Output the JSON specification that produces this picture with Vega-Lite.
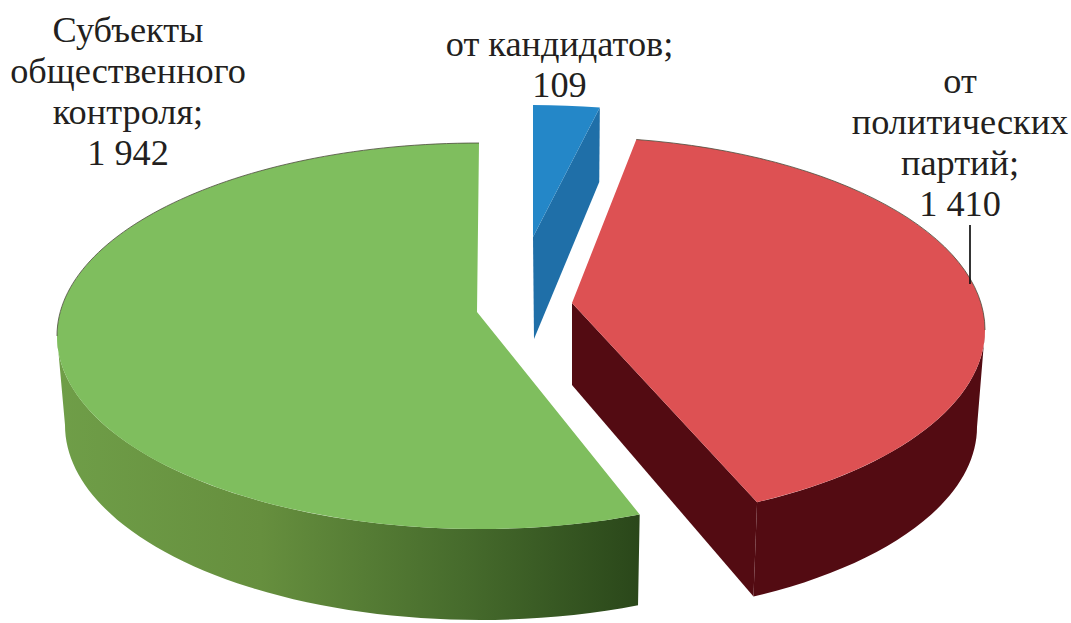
{"$schema":"https://vega.github.io/schema/vega-lite/v6.json","width":1071,"height":623,"padding":0,"autosize":{"type":"none"},"background":"white","config":{"view":{"stroke":null}},
"params":[{"name":"geom","value":{
"green":{"ax":-58.5,"ay":0.5,"cx":-56.5,"cy":24.5,"rx":422,"ry":193,"bx":-55.5,"by":113.5,"brx":415,"bry":195,"abx":0,"aby":0,"rot":0,"warp":0.55,"e0":270,"e1":360,"lx":-407.5,"ly":-269.5},
"red":{"ax":36.5,"ay":-8.5,"cx":34.5,"cy":18.5,"rx":415,"ry":193,"bx":34.5,"by":115.5,"brx":407,"bry":190,"abx":36.5,"aby":73.5,"rot":-3.09,"warp":2.46,"e0":0,"e1":90,"lx":424.5,"ly":-218.5},
"blue":{"ax":-2.5,"ay":-74.5,"cx":-2.5,"cy":-74.5,"rx":340,"ry":132,"bx":-2.5,"by":-0.1,"brx":337,"bry":132,"abx":-1.5,"aby":27.5,"rot":0,"warp":0,"e0":0,"e1":360,"lx":24,"ly":-255.5}
}}],
"data":{"values":[
{"slice":"green","name":"Субъекты\nобщественного\nконтроля","value":1942},
{"slice":"blue","name":"от кандидатов","value":109},
{"slice":"red","name":"от\nполитических\nпартий","value":1410}
]},
"transform":[
{"stack":"value","groupby":[],"sort":[{"field":"value","order":"ascending"}],"as":["v0","v1"]},
{"joinaggregate":[{"op":"sum","field":"value","as":"total"}]},
{"calculate":"geom[datum.slice]","as":"g"},
{"calculate":"360*datum.v0/datum.total","as":"d0"},
{"calculate":"360*datum.v1/datum.total","as":"d1"},
{"calculate":"(datum.d0+datum.g.rot+datum.g.warp*sin(2*datum.d0*PI/180))*PI/180","as":"a0"},
{"calculate":"(datum.d1+datum.g.rot+datum.g.warp*sin(2*datum.d1*PI/180))*PI/180","as":"a1"},
{"calculate":"max(datum.a0,PI/2)","as":"wa"},
{"calculate":"min(datum.a1,3*PI/2)","as":"wb"},
{"calculate":"max(datum.a0,datum.g.e0*PI/180)","as":"ea"},
{"calculate":"min(datum.a1,datum.g.e1*PI/180)","as":"eb"},
{"calculate":"'M'+datum.g.ax+','+datum.g.ay+'L'+round(100*(datum.g.cx+datum.g.rx*sin(datum.a0)))/100+','+round(100*(datum.g.cy-datum.g.ry*cos(datum.a0)))/100+'A'+datum.g.rx+','+datum.g.ry+' 0 '+(datum.a1-datum.a0>PI?1:0)+' 1 '+round(100*(datum.g.cx+datum.g.rx*sin(datum.a1)))/100+','+round(100*(datum.g.cy-datum.g.ry*cos(datum.a1)))/100+'Z'","as":"topPath"},
{"calculate":"'M'+round(100*(datum.g.cx+datum.g.rx*sin(datum.wa)))/100+','+round(100*(datum.g.cy-datum.g.ry*cos(datum.wa)))/100+'A'+datum.g.rx+','+datum.g.ry+' 0 0 1 '+round(100*(datum.g.cx+datum.g.rx*sin(datum.wb)))/100+','+round(100*(datum.g.cy-datum.g.ry*cos(datum.wb)))/100+'L'+round(100*(datum.g.bx+datum.g.brx*sin(datum.wb)))/100+','+round(100*(datum.g.by-datum.g.bry*cos(datum.wb)))/100+'A'+datum.g.brx+','+datum.g.bry+' 0 0 0 '+round(100*(datum.g.bx+datum.g.brx*sin(datum.wa)))/100+','+round(100*(datum.g.by-datum.g.bry*cos(datum.wa)))/100+'Z'","as":"wallPath"},
{"calculate":"'M'+datum.g.ax+','+datum.g.ay+'L'+round(100*(datum.g.cx+datum.g.rx*sin(datum.a1)))/100+','+round(100*(datum.g.cy-datum.g.ry*cos(datum.a1)))/100+'L'+round(100*(datum.g.bx+datum.g.brx*sin(datum.a1)))/100+','+round(100*(datum.g.by-datum.g.bry*cos(datum.a1)))/100+'L'+datum.g.abx+','+datum.g.aby+'Z'","as":"cutPath"},
{"calculate":"'M'+round(100*(datum.g.cx+datum.g.rx*sin(datum.ea)))/100+','+round(100*(datum.g.cy-datum.g.ry*cos(datum.ea)))/100+'A'+datum.g.rx+','+datum.g.ry+' 0 0 1 '+round(100*(datum.g.cx+datum.g.rx*sin(datum.eb)))/100+','+round(100*(datum.g.cy-datum.g.ry*cos(datum.eb)))/100","as":"edgePath"},
{"calculate":"width/2+datum.g.lx","as":"tx"},
{"calculate":"height/2+datum.g.ly","as":"ty"},
{"calculate":"datum.name+';\\n'+replace(format(datum.value,','),',',' ')","as":"label"}
],
"layer":[
{"transform":[{"filter":"datum.slice==='green'"}],"mark":{"type":"point","filled":true,"size":4,"opacity":1,"x":{"expr":"width/2"},"y":{"expr":"height/2"},"color":{"gradient":"linear","x1":0,"x2":1,"y1":0,"y2":0,"stops":[{"offset":0,"color":"#6f9e48"},{"offset":0.35,"color":"#668f3e"},{"offset":0.7,"color":"#466b2c"},{"offset":1,"color":"#2a471a"}]}},"encoding":{"shape":{"field":"wallPath","type":"nominal","scale":null,"legend":null}}},
{"transform":[{"filter":"datum.slice==='green'"}],"mark":{"type":"point","filled":true,"size":4,"opacity":1,"x":{"expr":"width/2"},"y":{"expr":"height/2"},"fill":"#7fbe5e"},"encoding":{"shape":{"field":"topPath","type":"nominal","scale":null,"legend":null}}},
{"transform":[{"filter":"datum.slice==='red'"}],"mark":{"type":"point","filled":true,"size":4,"opacity":1,"x":{"expr":"width/2"},"y":{"expr":"height/2"},"fill":"#530b12"},"encoding":{"shape":{"field":"wallPath","type":"nominal","scale":null,"legend":null}}},
{"transform":[{"filter":"datum.slice==='red'"}],"mark":{"type":"point","filled":true,"size":4,"opacity":1,"x":{"expr":"width/2"},"y":{"expr":"height/2"},"fill":"#530b12"},"encoding":{"shape":{"field":"cutPath","type":"nominal","scale":null,"legend":null}}},
{"transform":[{"filter":"datum.slice==='red'"}],"mark":{"type":"point","filled":true,"size":4,"opacity":1,"x":{"expr":"width/2"},"y":{"expr":"height/2"},"fill":"#dd5153"},"encoding":{"shape":{"field":"topPath","type":"nominal","scale":null,"legend":null}}},
{"transform":[{"filter":"datum.slice==='blue'"}],"mark":{"type":"point","filled":true,"size":4,"opacity":1,"x":{"expr":"width/2"},"y":{"expr":"height/2"},"fill":"#1f6fa8"},"encoding":{"shape":{"field":"cutPath","type":"nominal","scale":null,"legend":null}}},
{"transform":[{"filter":"datum.slice==='blue'"}],"mark":{"type":"point","filled":true,"size":4,"opacity":1,"x":{"expr":"width/2"},"y":{"expr":"height/2"},"fill":"#2487c8"},"encoding":{"shape":{"field":"topPath","type":"nominal","scale":null,"legend":null}}},
{"transform":[{"filter":"datum.slice!=='blue'"}],"mark":{"type":"point","filled":false,"size":4,"opacity":1,"x":{"expr":"width/2"},"y":{"expr":"height/2"},"stroke":"#4a4a3a","strokeWidth":0.8,"fill":null},"encoding":{"shape":{"field":"edgePath","type":"nominal","scale":null,"legend":null}}},
{"transform":[{"filter":"datum.slice==='red'"},{"calculate":"datum.tx+10","as":"lx1"},{"calculate":"datum.ty+132","as":"ly1"},{"calculate":"datum.ty+191","as":"ly2"}],"mark":{"type":"rule","stroke":"#111111","strokeWidth":1.7},"encoding":{"x":{"field":"lx1","type":"quantitative","scale":null,"axis":null},"y":{"field":"ly1","type":"quantitative","scale":null,"axis":null},"y2":{"field":"ly2"}}},
{"mark":{"type":"text","font":"Liberation Serif","fontSize":36.3,"lineHeight":41,"lineBreak":"\n","align":"center","baseline":"alphabetic","fill":"#231f20"},"encoding":{"x":{"field":"tx","type":"quantitative","scale":null,"axis":null},"y":{"field":"ty","type":"quantitative","scale":null,"axis":null},"text":{"field":"label"}}}
]}
